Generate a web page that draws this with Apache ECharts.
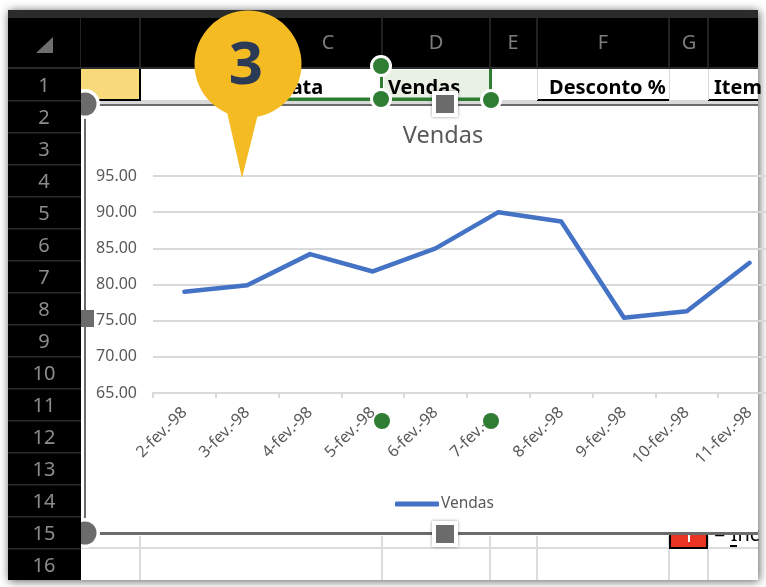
<!DOCTYPE html>
<html><head><meta charset="utf-8">
<style>html,body{margin:0;padding:0;background:#fff}#c{width:766px;height:587px}</style>
<script src="https://cdn.jsdelivr.net/npm/echarts@6/dist/echarts.min.js"></script>
</head><body><div id="c"></div>
<script>
const categories = ['2-fev.-98','3-fev.-98','4-fev.-98','5-fev.-98','6-fev.-98','7-fev.-98','8-fev.-98','9-fev.-98','10-fev.-98','11-fev.-98'];
const vendas = [79.0, 79.9, 84.2, 81.8, 85.0, 90.0, 88.7, 75.4, 76.3, 83.0];
const rowLabels = ['1','2','3','4','5','6','7','8','9','10','11','12','13','14','15','16'];
const columnLabels = [['C',328],['D',436],['E',513],['F',603],['G',689]];
const headerCells = [['Vendas',388],['Desconto %',549],['Item',714]];
const FONT = '"Noto Sans"', GREY = '#595959', GREEN = '#2F7D32', HANDLE = '#6B6B6B';

const rect = (x,y,w,h,fill,z,extra) => Object.assign({type:'rect',shape:{x,y,width:w,height:h},style:Object.assign({fill},extra||{}),z,silent:true});
const text = (x,y,s,size,fill,z,weight,align) => ({type:'text',x,y,z,silent:true,style:{text:s,font:(weight||'normal')+' '+size+'px '+FONT,fill,textAlign:align||'center',textVerticalAlign:'middle'}});
const circle = (cx,cy,r,fill,z,extra) => ({type:'circle',shape:{cx,cy,r},style:Object.assign({fill},extra||{}),z,silent:true});

const g = [];
g.push(rect(8,10,750,570,'#fff',-10,{shadowBlur:9,shadowColor:'rgba(0,0,0,0.65)',shadowOffsetX:1,shadowOffsetY:1}));
g.push(rect(81,68,677,36,'#fff',-9));
g.push(rect(81,100,677,4,'#D9D9D9',-8));
g.push(rect(81,69,59,30,'#F9DA7A',-7));
g.push(rect(139,68,2,33,'#000',-6));
g.push(rect(81,99,60,2,'#000',-6));
g.push(text(276,88,'Data',20,'#000',-6,'bold','left'));
g.push(rect(384,70,106,29,'#E9F0E4',-7));
headerCells.forEach(h => g.push(text(h[1],88,h[0],20,'#000',-5,'bold','left')));
g.push(rect(537,99,132,2,'#000',-6));
g.push(rect(708,99,50,2,'#000',-6));
g.push(rect(669,68,1,32,'#D9D9D9',-6), rect(708,68,1,32,'#D9D9D9',-6), rect(537,68,1,32,'#D9D9D9',-6));
g.push(rect(280,97.5,100,3.5,GREEN,-4), rect(381,97.5,110,3.5,GREEN,-4), rect(380,72,3,28,GREEN,-4), rect(489,68,3,32,GREEN,-4));
[140,382,490,537,669,708].forEach(x => g.push(rect(x-1,536,2,44,'#DCDCDC',-7)));
g.push(rect(81,547,677,2,'#DCDCDC',-7));
g.push(rect(669,534,39,15,'#000',-5), rect(671,534,35,13,'#E93323',-5), rect(688,534,2,8,'#fff',-5));
g.push({type:'text',x:714,y:535,z:-5,silent:true,style:{text:'= Inc',font:'20px '+FONT,fill:'#000',textVerticalAlign:'middle'}});
g.push(rect(730,545,7,2,'#000',-5));
g.push(rect(86,105,672,428,'#fff',-3));
g.push(rect(84,104,2,430,HANDLE,-2));
g.push(rect(84,104,674,2,HANDLE,-2));
g.push(rect(84,532,674,3,HANDLE,-2));
g.push({type:'rect',z:20,silent:true,x:486,y:427,rotation:Math.PI/4,shape:{x:0,y:-11,width:32,height:22},style:{fill:'#fff'}});
g.push(circle(382,421,8,GREEN,21), circle(491,421,8,GREEN,21));
g.push(circle(381,66,11,'#fff',45), circle(381,66,8,GREEN,46));
g.push(circle(381,99,11,'#fff',30), circle(381,99,8,GREEN,31));
g.push(circle(491,100,11,'#fff',30), circle(491,100,8,GREEN,31));
[[445,104],[445,534]].forEach(p => {
  g.push(rect(p[0]-13,p[1]-13,26,26,'#fff',30,{shadowBlur:3,shadowColor:'rgba(0,0,0,0.4)'}));
  g.push(rect(p[0]-9,p[1]-9,18,18,HANDLE,31));
});
g.push(circle(85,104,15,'#fff',30), circle(85,104,11.5,HANDLE,31));
g.push(circle(85,533,15,'#fff',30), circle(85,533,11.5,HANDLE,31));
g.push(rect(76,310,18,17,HANDLE,31));
g.push(rect(8,10,750,8,'#2B2B2B',40));
g.push(rect(8,18,750,50,'#000',40));
g.push(rect(8,68,73,512,'#000',40));
[140,382,490,537,669,708].forEach(x => g.push(rect(x-1,18,2,49,'#222',41)));
g.push(rect(80,18,1,50,'#222',41));
g.push(rect(8,67,750,2,'#2A2A2A',41));
rowLabels.forEach((r,i) => {
  g.push(text(44,86+i*32,r,20,'#8C8C8C',42));
  if(i) g.push(rect(8,68+i*32,73,1.5,'#2A2A2A',41));
});
columnLabels.forEach(c => g.push(text(c[1],43,c[0],20,'#7C7C7C',42)));
g.push({type:'polygon',z:42,silent:true,shape:{points:[[53,37],[53,53],[36,53]]},style:{fill:'#6E6E6E'}});
g.push({type:'polygon',z:60,silent:true,shape:{points:[[227,112],[242,178],[258,114]]},style:{fill:'#F4BB22'}});
g.push(circle(248,64,53.5,'#F4BB22',60));
g.push(text(246,67,'3',60,'#2B3A55',61,'bold'));

const option = {
  animation:false,
  backgroundColor:'#fff',
  textStyle:{fontFamily:FONT},
  title:{text:'Vendas',left:438,top:119,textAlign:'center',textStyle:{fontFamily:FONT,fontSize:23.5,fontWeight:'normal',color:GREY}},
  legend:{left:390,top:491,icon:'roundRect',itemWidth:44,itemHeight:5,itemGap:0,data:['Vendas'],textStyle:{fontFamily:FONT,fontSize:15.5,color:GREY,padding:[0,0,0,-3]}},
  grid:{left:153,top:176,width:628,height:217,containLabel:false,outerBoundsMode:'none'},
  xAxis:{type:'category',data:categories,boundaryGap:true,
    axisLine:{lineStyle:{color:'#D9D9D9',width:2}},
    axisTick:{show:true,length:5,lineStyle:{color:'#D9D9D9',width:2}},
    axisLabel:{interval:0,rotate:45,margin:17,fontFamily:FONT,fontSize:16,color:GREY}},
  yAxis:{type:'value',min:65,max:95,interval:5,
    axisLine:{show:false},axisTick:{show:false},
    splitLine:{lineStyle:{color:'#D9D9D9',width:2}},
    axisLabel:{margin:16,fontFamily:FONT,fontSize:16,color:GREY,formatter:v=>v.toFixed(2)}},
  series:[{name:'Vendas',type:'line',data:vendas,symbol:'none',clip:false,
    lineStyle:{color:'#4472C4',width:4.5,cap:'round',join:'round'},itemStyle:{color:'#4472C4'}}],
  graphic:{elements:g}
};
echarts.init(document.getElementById('c'),null,{renderer:'canvas'}).setOption(option);
</script></body></html>
